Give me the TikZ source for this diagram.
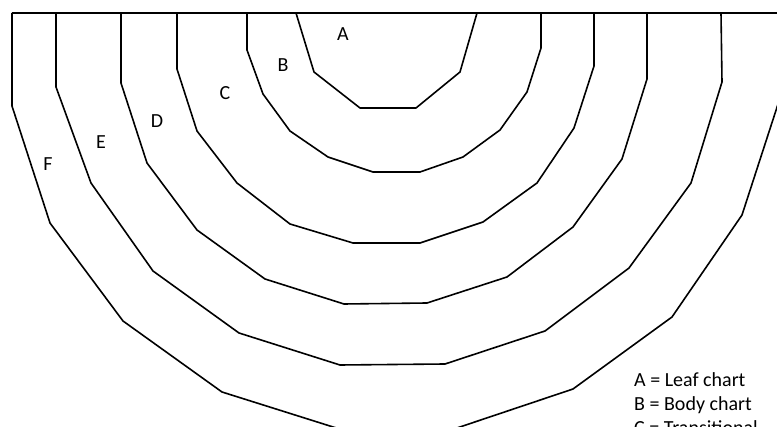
\documentclass[tikz,border=0pt]{standalone}
\usepackage{fontspec}
\setmainfont{Carlito}
\begin{document}
\begin{tikzpicture}[x=1pt,y=-1pt,
  band/.style={line width=1.6pt, line join=round},
  lbl/.style={font=\fontsize{20}{24}\selectfont, inner sep=0pt},
  leg/.style={font=\fontsize{20}{24}\selectfont, inner sep=0pt, anchor=base west}]
\useasboundingbox (0,0) rectangle (777,427);
\clip (0,0) rectangle (777,427);
% top line
\draw[band] (12,13) -- (790,13);
% A
\draw[band] (296,13)--(314,72)--(360,108)--(416,108)--(460,72)--(477,13);
% B
\draw[band] (247,13)--(247,50)--(263,94)--(290,131)--(328,157)--(373,172)--(420,172)--(463,157)--(500,130)--(527,92)--(541,48)--(541,13);
% C
\draw[band] (177,13)--(177,69)--(197,131)--(237,183)--(290,224)--(353,243)--(420,243)--(483,222)--(537,183)--(574,128)--(594,66)--(594,13);
% D
\draw[band] (121,13)--(121,83)--(147,163)--(197,230)--(265,279)--(344,304)--(427,303)--(507,277)--(573,227)--(622,159)--(647,79)--(647,13);
% E
\draw[band] (56,13)--(56,87)--(91,183)--(153,271)--(239,333)--(340,365)--(445,364)--(545,331)--(629,268)--(691,183)--(722,82)--(721,13);
% F
\draw[band] (12,13)--(12,106)--(50,223)--(123,321)--(222,392)--(349,432)--(445,432)--(573,389)--(672,317)--(742,215)--(780,98)--(780,13);
% labels
\node[lbl] (la) at (343,34) {A};
\node[lbl] (lb) at (283,65) {B};
\node[lbl] (lc) at (225,93) {C};
\node[lbl] (ld) at (157,121) {D};
\node[lbl] (le) at (101,142) {E};
\node[lbl] (lf) at (48,164) {F};
% legend
\node[leg] (k1) at (634,387) {A = Leaf chart};
\node[leg] (k2) at (634,411) {B = Body chart};
\node[leg] (k3) at (634,435) {C = Transitional};
\end{tikzpicture}
\end{document}
